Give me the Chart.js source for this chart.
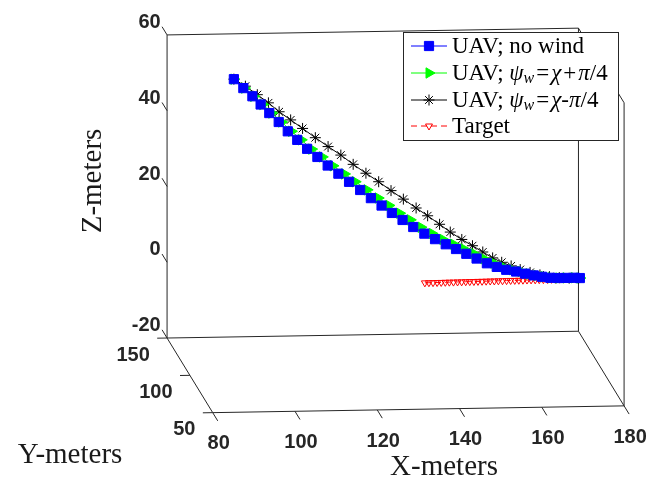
<!DOCTYPE html>
<html>
<head>
<meta charset="utf-8">
<script src="https://cdn.jsdelivr.net/npm/chart.js@4.4.0/dist/chart.umd.min.js"></script>
<style>
  html, body { margin: 0; padding: 0; background: #fff; }
  #wrap { width: 657px; height: 488px; }
</style>
</head>
<body>
<div id="wrap"><canvas id="chart" width="657" height="488"></canvas></div>
<script>
// Axis limits and ticks (meters)
const xLim = [80, 180];
const yLim = [50, 150];
const zLim = [-20, 60];
const xTicks = [80, 100, 120, 140, 160, 180];
const yTicks = [50, 100, 150];
const zTicks = [-20, 0, 20, 40, 60];

// UAV trajectories (all UAV runs stay at the same Y)
const uavY = 119;

const noWindX = [92.8, 95.1, 97.3, 99.3, 101.4, 103.7, 105.9, 108.2, 110.6, 113.1, 115.6, 118.2, 120.8, 123.5, 126.1, 128.7, 131.2, 133.8, 136.4, 139.1, 141.7, 144.3, 146.8, 149.3, 151.8, 154.3, 156.7, 159.0, 161.4, 163.6, 165.7, 167.7, 169.7, 171.7, 173.6, 175.6, 176.9];
const noWindZ = [54.2, 51.8, 49.6, 47.4, 45.1, 42.7, 40.2, 37.9, 35.5, 33.3, 31.0, 28.8, 26.6, 24.4, 22.2, 20.2, 18.2, 16.3, 14.4, 12.6, 11.1, 9.7, 8.4, 7.1, 5.8, 4.5, 3.5, 2.7, 2.2, 1.6, 1.1, 0.7, 0.4, 0.3, 0.3, 0.3, 0.2];

const windPlusX = [92.8, 95.4, 97.6, 99.8, 102.0, 104.4, 106.8, 109.2, 111.7, 114.3, 116.9, 119.7, 122.3, 125.2, 127.9, 130.5, 133.1, 135.7, 138.3, 141.0, 143.6, 146.2, 148.7, 151.2, 153.6, 156.0, 158.2, 160.5, 162.6, 164.6, 166.5, 168.2, 169.9, 171.8, 173.6, 175.6, 176.9];
const windPlusZ = [54.2, 51.8, 49.6, 47.4, 45.1, 42.7, 40.2, 37.9, 35.4, 33.3, 30.9, 28.7, 26.6, 24.4, 22.2, 20.2, 18.1, 16.3, 14.3, 12.6, 11.0, 9.7, 8.4, 7.1, 5.7, 4.5, 3.5, 2.7, 2.2, 1.5, 1.1, 0.7, 0.4, 0.3, 0.3, 0.3, 0.2];

const windMinusX = [92.8, 95.6, 98.5, 101.2, 103.8, 106.6, 109.5, 112.6, 115.7, 118.8, 121.8, 124.9, 128.0, 131.0, 134.0, 137.1, 139.9, 142.8, 145.4, 148.2, 150.8, 153.3, 155.7, 157.9, 160.2, 162.4, 164.8, 167.2, 169.5, 171.9, 174.3, 176.6];
const windMinusZ = [54.2, 52.3, 50.0, 47.8, 45.4, 43.2, 40.9, 38.4, 36.0, 33.7, 31.2, 28.8, 26.5, 24.1, 21.8, 19.4, 17.3, 15.0, 12.9, 10.9, 9.2, 7.5, 5.9, 4.7, 3.7, 2.7, 1.9, 1.2, 0.7, 0.4, 0.2, 0.2];

// Target moves on the ground
const targetX = [139, 140, 141, 142, 143, 144, 145, 146, 147, 148, 149, 150, 151, 152, 153, 154, 155, 156, 157, 158, 159, 160, 161, 162, 163, 164, 165, 166, 167, 168, 169, 170, 171, 172, 173, 174, 175, 176, 177];
const targetY = [117.0, 117.1, 117.1, 117.2, 117.2, 117.3, 117.4, 117.4, 117.5, 117.5, 117.6, 117.7, 117.7, 117.8, 117.8, 117.9, 118.0, 118.0, 118.1, 118.1, 118.2, 118.3, 118.3, 118.4, 118.4, 118.5, 118.6, 118.6, 118.7, 118.7, 118.8, 118.9, 118.9, 119.0, 119.0, 119.1, 119.2, 119.2, 119.3];
const targetZ = 0;

// 3D view: where the (xmin, ymax, zmin) corner lands, and the run of each full axis range
const corner = [163.3, 341];
const xRun = [421, -7];
const yRun = [46.7, 77];      // from y max towards y min
const zRun = [0, -312.7];

function project(x, y, z) {
    const fx = (x - xLim[0]) / (xLim[1] - xLim[0]);
    const fy = (yLim[1] - y) / (yLim[1] - yLim[0]);
    const fz = (z - zLim[0]) / (zLim[1] - zLim[0]);
    return {
        x: corner[0] + fx * xRun[0] + fy * yRun[0] + fz * zRun[0],
        y: corner[1] + fx * xRun[1] + fy * yRun[1] + fz * zRun[1]
    };
}

function path(xs, ys, zs) {
    return xs.map((x, i) => project(x, Array.isArray(ys) ? ys[i] : ys, Array.isArray(zs) ? zs[i] : zs));
}

function segments(list) {
    const out = [];
    list.forEach(([a, b]) => {
        out.push(project(...a), project(...b), { x: null, y: null });
    });
    return out;
}

// Box edges (back planes) and tick marks
const [x0, x1] = xLim, [y0, y1] = yLim, [z0, z1] = zLim;
const boxEdges = segments([
    [[x0, y1, z0], [x1, y1, z0]],
    [[x0, y1, z1], [x1, y1, z1]],
    [[x0, y1, z0], [x0, y1, z1]],
    [[x1, y1, z0], [x1, y1, z1]],
    [[x0, y1, z0], [x0, y0, z0]],
    [[x1, y1, z0], [x1, y0, z0]],
    [[x0, y0, z0], [x1, y0, z0]],
    [[x1, y0, z0], [x1, y0, z1]],
    [[x1, y1, z1], [x1, y0, z1]]
]);
const tickMarks = segments([
    ...zTicks.map(z => [[x0, y1, z], [x0, y1 + 11, z]]),
    ...xTicks.map(x => [[x, y0, z0], [x, y0 - 11, z0]]),
    ...yTicks.map(y => [[x0, y, z0], [x0 - 2.4, y, z0]])
]);

const series = [
    {
        data: path(noWindX, uavY, noWindZ),
        color: '#0000ff', fill: '#0000ff', pointStyle: 'rect', radius: 6.5, rotation: 0, dash: []
    },
    {
        data: path(windPlusX, uavY, windPlusZ),
        color: '#00ff00', fill: '#00ff00', pointStyle: 'triangle', radius: 6, rotation: 90, dash: []
    },
    {
        data: path(windMinusX, uavY, windMinusZ),
        color: '#000000', fill: '#000000', pointStyle: 'star', radius: 5.5, rotation: 0, dash: []
    },
    {
        data: path(targetX, targetY, targetZ),
        color: '#ff0000', fill: 'rgba(0,0,0,0)', pointStyle: 'triangle', radius: 4, rotation: 180, dash: [6, 4]
    }
];

// Legend labels, split into upright / italic / subscript pieces
const legendRows = [
    [{ t: 'UAV; no wind' }],
    [{ t: 'UAV; ' }, { t: 'ψ', i: true }, { t: 'w', i: true, sub: true }, { t: '=', pad: 2 }, { t: 'χ', i: true }, { t: '+', pad: 2 }, { t: 'π', i: true }, { t: '/4' }],
    [{ t: 'UAV; ' }, { t: 'ψ', i: true }, { t: 'w', i: true, sub: true }, { t: '=', pad: 2 }, { t: 'χ', i: true }, { t: '-' }, { t: 'π', i: true }, { t: '/4' }],
    [{ t: 'Target' }]
];

const datasets = series.map(s => ({
    data: s.data,
    showLine: true,
    borderColor: s.color,
    borderWidth: 1,
    borderDash: s.dash,
    backgroundColor: s.fill,
    pointStyle: s.pointStyle,
    pointRadius: s.radius,
    pointRotation: s.rotation,
    pointBorderColor: s.color,
    pointBackgroundColor: s.fill,
    pointBorderWidth: 1,
    clip: false
}));
datasets.push({
    data: tickMarks.concat(boxEdges),
    showLine: true,
    borderColor: '#262626',
    borderWidth: 1,
    pointRadius: 0,
    spanGaps: false,
    clip: false
});

const overlay = {
    id: 'overlay',
    afterDatasetsDraw(chart) {
        const ctx = chart.ctx;
        const sx = chart.scales.x, sy = chart.scales.y;
        const px = p => [sx.getPixelForValue(p.x), sy.getPixelForValue(p.y)];
        ctx.save();
        ctx.fillStyle = '#262626';
        ctx.font = 'bold 20px "Liberation Sans", Arial, sans-serif';

        // z tick labels
        ctx.textAlign = 'right';
        ctx.textBaseline = 'middle';
        zTicks.forEach(z => {
            const [a, b] = px(project(x0, y1 + 14, z));
            ctx.fillText(String(z), a, b - 2);
        });
        // y tick labels
        yTicks.forEach(y => {
            const [a, b] = px(project(x0 - 4.2, y, z0));
            ctx.fillText(String(y), a, b + 17);
        });
        // x tick labels
        ctx.textAlign = 'center';
        xTicks.forEach(x => {
            const [a, b] = px(project(x, y0 - 11, z0));
            ctx.fillText(String(x), a + 1, b + 23);
        });

        // axis titles
        ctx.fillStyle = '#1a1a1a';
        ctx.font = '29px "Liberation Serif", "Times New Roman", serif';
        ctx.fillText('X-meters', 444, 467);
        ctx.fillText('Y-meters', 70, 455);
        ctx.save();
        ctx.translate(93, 181);
        ctx.rotate(-Math.PI / 2);
        ctx.fillText('Z-meters', 0, 0);
        ctx.restore();

        // legend
        const box = { left: 403.5, top: 32.5, right: 618.5, bottom: 140.5 };
        ctx.fillStyle = '#ffffff';
        ctx.fillRect(box.left, box.top, box.right - box.left, box.bottom - box.top);
        ctx.strokeStyle = '#262626';
        ctx.lineWidth = 1;
        ctx.strokeRect(box.left, box.top, box.right - box.left, box.bottom - box.top);

        const rowY = [46, 73, 100, 126];
        series.forEach((s, i) => {
            const y = rowY[i];
            ctx.save();
            ctx.strokeStyle = s.color;
            ctx.lineWidth = 1;
            ctx.setLineDash(s.dash);
            ctx.beginPath();
            ctx.moveTo(411, y);
            ctx.lineTo(447, y);
            ctx.stroke();
            ctx.setLineDash([]);
            ctx.fillStyle = s.fill;
            Chart.helpers.drawPoint(ctx, {
                pointStyle: s.pointStyle, radius: s.radius, rotation: s.rotation, borderWidth: 1
            }, 429, y);
            ctx.restore();

            ctx.fillStyle = '#000000';
            ctx.textAlign = 'left';
            ctx.textBaseline = 'middle';
            let x = 452;
            legendRows[i].forEach(part => {
                const size = part.sub ? 16 : 23;
                const pad = part.pad || 0;
                ctx.font = (part.i ? 'italic ' : '') + size + 'px "Liberation Serif", "Times New Roman", serif';
                ctx.fillText(part.t, x + pad, y + (part.sub ? 6 : 1));
                x += ctx.measureText(part.t).width + 2 * pad;
            });
        });
        ctx.restore();
    }
};

new Chart(document.getElementById('chart').getContext('2d'), {
    type: 'scatter',
    data: { datasets: datasets },
    options: {
        responsive: false,
        animation: false,
        events: [],
        layout: { padding: 0 },
        plugins: { legend: { display: false }, tooltip: { enabled: false } },
        scales: {
            x: { type: 'linear', display: false, min: 0, max: 657 },
            y: { type: 'linear', display: false, min: 0, max: 488, reverse: true }
        }
    },
    plugins: [overlay]
});
</script>
</body>
</html>
